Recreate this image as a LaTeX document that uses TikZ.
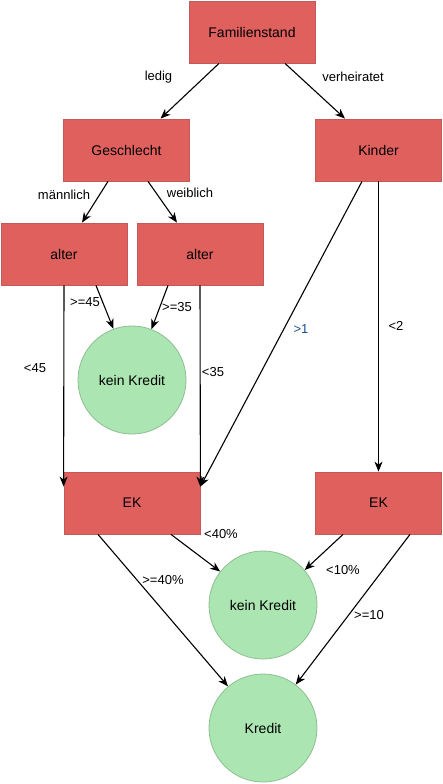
\documentclass[tikz,border=0pt]{standalone}
\usepackage{fontspec}
\setmainfont{Liberation Sans}
\usetikzlibrary{arrows.meta}
\definecolor{boxfill}{HTML}{E0605E}
\definecolor{boxline}{HTML}{C45A57}
\definecolor{circfill}{HTML}{ABE6B2}
\definecolor{circline}{HTML}{8DBE92}
\definecolor{bluelab}{HTML}{1A4F8F}
\begin{document}
\begin{tikzpicture}[x=1pt,y=-1pt,
  box/.style={draw=boxline,fill=boxfill,line width=0.8pt,minimum width=126pt,minimum height=62pt,inner sep=0pt,font=\fontsize{14}{16}\selectfont},
  circ/.style={circle,draw=circline,fill=circfill,line width=0.8pt,minimum size=108pt,inner sep=0pt,font=\fontsize{14}{16}\selectfont},
  lab/.style={inner sep=0pt,font=\fontsize{13}{15}\selectfont},
  conn/.style={line width=1.1pt,-{Stealth[length=10pt,width=8pt,inset=3pt]}}]
\useasboundingbox (0,0) rectangle (443,784);
% boxes
\node[box] (fam) at (252,32) {Familienstand};
\node[box] (ges) at (126.5,150) {Geschlecht};
\node[box] (kin) at (378.5,150) {Kinder};
\node[box] (alt1) at (64,254) {alter};
\node[box] (alt2) at (200,254) {alter};
\node[box,minimum width=136pt] (ek1) at (132,503) {EK};
\node[box] (ek2) at (378.5,503) {EK};
\node[circ] (kk1) at (132,380) {kein Kredit};
\node[circ] (kk2) at (263,605) {kein Kredit};
\node[circ] (kred) at (263,728) {Kredit};
% connectors
\draw[conn] ([xshift=-33pt]fam.south) -- ([xshift=34pt]ges.north);
\draw[conn] ([xshift=33pt]fam.south) -- ([xshift=-33.5pt]kin.north);
\draw[conn] ([xshift=-18.5pt]ges.south) -- ([xshift=18pt]alt1.north);
\draw[conn] ([xshift=21.5pt]ges.south) -- ([xshift=-23pt]alt2.north);
\draw[conn] ([xshift=32pt]alt1.south) -- (kk1.110);
\draw[conn] ([xshift=-32pt]alt2.south) -- (kk1.69);
\draw[conn] (alt1.south) -- ([yshift=-15pt]ek1.north west);
\draw[conn] (alt2.south) -- ([yshift=-15pt]ek1.north east);
\draw[conn] ([xshift=-16.5pt]kin.south) -- ([yshift=-15pt]ek1.north east);
\draw[conn] (kin.south) -- (ek2.north);
\draw[conn] ([xshift=39pt]ek1.south) -- (kk2.142);
\draw[conn] ([xshift=-34pt]ek1.south) -- (kred.130);
\draw[conn] ([xshift=-35.5pt]ek2.south) -- (kk2.40);
\draw[conn] ([xshift=31.5pt]ek2.south) -- (kred.53);
% labels
\node[lab] (l1) at (158.5,77) {ledig};
\node[lab] (l2) at (353,77) {verheiratet};
\node[lab] (l3) at (64,195) {männlich};
\node[lab] (l4) at (190,193) {weiblich};
\node[lab] (l5) at (85,302) {>=45};
\node[lab] (l6) at (177,307) {>=35};
\node[lab] (l7) at (35,368) {<45};
\node[lab] (l8) at (213,372) {<35};
\node[lab,text=bluelab] (l9) at (301,329) {>1};
\node[lab] (l10) at (396,326) {<2};
\node[lab] (l11) at (221,534) {<40\%};
\node[lab] (l12) at (163,580) {>=40\%};
\node[lab] (l13) at (343,570) {<10\%};
\node[lab] (l14) at (369,615) {>=10};
\end{tikzpicture}
\end{document}
